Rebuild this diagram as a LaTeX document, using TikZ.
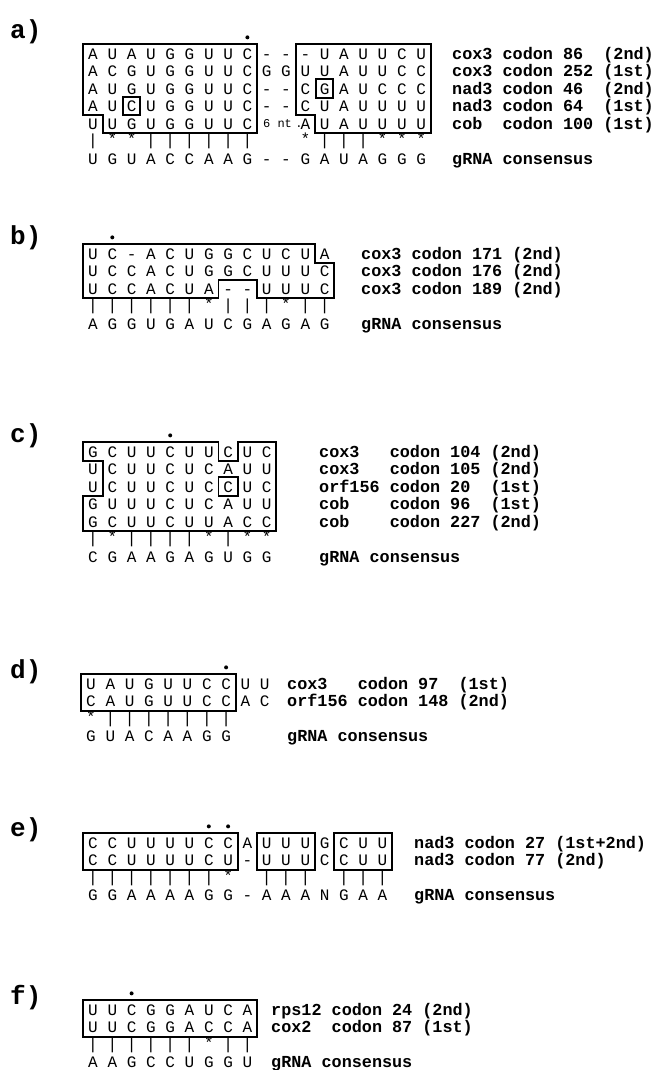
\documentclass[tikz,border=0pt]{standalone}
\usepackage{fontspec}
\setmonofont{Liberation Mono}
\frenchspacing
\newcommand\seqf{\fontsize{16}{16}\selectfont\ttfamily}
\newcommand\smallf{\fontsize{12}{12}\selectfont\ttfamily}
\newcommand\lblf{\fontsize{16.8}{17}\selectfont\ttfamily\bfseries}
\newcommand\panf{\fontsize{26}{26}\selectfont\ttfamily\bfseries}
\tikzset{
  nt/.style={inner sep=0pt, font=\seqf, text height=10.5pt, text depth=0pt, anchor=center},
  ntsmall/.style={inner sep=0pt, font=\smallf, text height=8pt, text depth=0pt, anchor=center},
  mk/.style={inner sep=0pt, font=\seqf, anchor=center},
  lbl/.style={inner sep=0pt, font=\lblf, anchor=west, text height=10.5pt, text depth=0pt},
  pan/.style={inner sep=0pt, font=\panf, anchor=west},
  boxl/.style={draw=black, line width=1.8pt, line join=miter},
  dotm/.style={fill=black, circle, inner sep=0pt, minimum size=4pt},
}
\newcommand\seqrow[3]{\foreach \ch [count=\i from 0] in {#3} {\node[nt] (#1-\i) at (\i,#2) {\ch};}}
\newcommand\barrow[3]{\foreach \i in {#3} {\node[mk] (#1-b\i) at (\i,#2) {|};}}
\newcommand\starrow[3]{\foreach \i in {#3} {\node[mk,yshift=2.5pt] (#1-s\i) at (\i,#2) {*};}}
\begin{document}
\begin{tikzpicture}[x=1pt,y=-1pt]
\useasboundingbox (0,0) rectangle (662,1070);
\fill[white] (0,0) rectangle (662,1070);

% ---------------- panel a
\node[pan] (pa) at (10,32) {a)};
\begin{scope}[shift={(93pt,-54pt)},x=19.3pt,y=-17.5pt]
  \node[dotm] (a-dot) at (8,-0.95) {};
  \seqrow{a0}{0}{A,U,A,U,G,G,U,U,C,-,-,-,U,A,U,U,C,U}
  \seqrow{a1}{1}{A,C,G,U,G,G,U,U,C,G,G,U,U,A,U,U,C,C}
  \seqrow{a2}{2}{A,U,G,U,G,G,U,U,C,-,-,C,G,A,U,C,C,C}
  \seqrow{a3}{3}{A,U,C,U,G,G,U,U,C,-,-,C,U,A,U,U,U,U}
  \seqrow{a4}{4}{U,U,G,U,G,G,U,U,C,{},{},A,U,A,U,U,U,U}
  \node[ntsmall] (a-6nt) at (9.56,4) {6~nt};
  \node[ntsmall] (a-per) at (10.67,4) {.};
  \barrow{am}{5}{0,3,4,5,6,7,8,12,13,14}
  \starrow{am}{5}{1,2,11,15,16,17}
  \seqrow{ac}{6}{U,G,U,A,C,C,A,A,G,-,-,G,A,U,A,G,G,G}
  \draw[boxl] (-0.5,-0.57) -- (8.5,-0.57) -- (8.5,4.52) -- (0.5,4.52) -- (0.5,3.5) -- (-0.5,3.5) -- cycle;
  \draw[boxl] (10.5,-0.57) -- (17.5,-0.57) -- (17.5,4.52) -- (11.5,4.52) -- (11.5,3.5) -- (10.5,3.5) -- cycle;
  \draw[boxl] (1.55,2.45) rectangle (2.45,3.5);
  \draw[boxl] (11.55,1.45) rectangle (12.45,2.5);
\end{scope}
\node[lbl] (la1) at (452,54) {cox3 codon 86~~(2nd)};
\node[lbl] (la2) at (452,71.5) {cox3 codon 252 (1st)};
\node[lbl] (la3) at (452,89) {nad3 codon 46~~(2nd)};
\node[lbl] (la4) at (452,106.5) {nad3 codon 64~~(1st)};
\node[lbl] (la5) at (452,124) {cob~~codon 100 (1st)};
\node[lbl] (la6) at (452,159) {gRNA consensus};

% ---------------- panel b
\node[pan] (pb) at (10,238) {b)};
\begin{scope}[shift={(93pt,-254pt)},x=19.3pt,y=-17.5pt]
  \node[dotm] (b-dot) at (1,-0.95) {};
  \seqrow{b0}{0}{U,C,-,A,C,U,G,G,C,U,C,U,A}
  \seqrow{b1}{1}{U,C,C,A,C,U,G,G,C,U,U,U,C}
  \seqrow{b2}{2}{U,C,C,A,C,U,A,-,-,U,U,U,C}
  \barrow{bm}{3}{0,1,2,3,4,5,7,8,9,11,12}
  \starrow{bm}{3}{6,10}
  \seqrow{bc}{4}{A,G,G,U,G,A,U,C,G,A,G,A,G}
  \draw[boxl] (-0.5,-0.57) -- (11.5,-0.57) -- (11.5,0.5) -- (12.5,0.5) -- (12.5,2.52) -- (8.5,2.52) -- (8.5,1.5) -- (6.5,1.5) -- (6.5,2.52) -- (-0.5,2.52) -- cycle;
\end{scope}
\node[lbl] (lb1) at (361,254) {cox3 codon 171 (2nd)};
\node[lbl] (lb2) at (361,271.5) {cox3 codon 176 (2nd)};
\node[lbl] (lb3) at (361,289) {cox3 codon 189 (2nd)};
\node[lbl] (lb4) at (361,324) {gRNA consensus};

% ---------------- panel c
\node[pan] (pc) at (10,436) {c)};
\begin{scope}[shift={(93pt,-452pt)},x=19.3pt,y=-17.5pt]
  \node[dotm] (c-dot) at (4,-0.95) {};
  \seqrow{c0}{0}{G,C,U,U,C,U,U,C,U,C}
  \seqrow{c1}{1}{U,C,U,U,C,U,C,A,U,U}
  \seqrow{c2}{2}{U,C,U,U,C,U,C,C,U,C}
  \seqrow{c3}{3}{G,U,U,U,C,U,C,A,U,U}
  \seqrow{c4}{4}{G,C,U,U,C,U,U,A,C,C}
  \barrow{cm}{5}{0,2,3,4,5,7}
  \starrow{cm}{5}{1,6,8,9}
  \seqrow{cc}{6}{C,G,A,A,G,A,G,U,G,G}
  \draw[boxl] (-0.5,-0.57) -- (6.5,-0.57) -- (6.5,0.5) -- (7.5,0.5) -- (7.5,-0.57) -- (9.5,-0.57) -- (9.5,4.52) -- (-0.5,4.52) -- (-0.5,2.5) -- (0.5,2.5) -- (0.5,0.5) -- (-0.5,0.5) -- cycle;
  \draw[boxl] (6.5,1.43) rectangle (7.5,2.5);
\end{scope}
\node[lbl] (lc1) at (319,452) {cox3~~~codon 104 (2nd)};
\node[lbl] (lc2) at (319,469.5) {cox3~~~codon 105 (2nd)};
\node[lbl] (lc3) at (319,487) {orf156 codon 20~~(1st)};
\node[lbl] (lc4) at (319,504.5) {cob~~~~codon 96~~(1st)};
\node[lbl] (lc5) at (319,522) {cob~~~~codon 227 (2nd)};
\node[lbl] (lc6) at (319,557) {gRNA consensus};

% ---------------- panel d
\node[pan] (pd) at (10,672) {d)};
\begin{scope}[shift={(91pt,-684pt)},x=19.3pt,y=-17.5pt]
  \node[dotm] (d-dot) at (7,-0.95) {};
  \seqrow{d0}{0}{U,A,U,G,U,U,C,C,U,U}
  \seqrow{d1}{1}{C,A,U,G,U,U,C,C,A,C}
  \barrow{dm}{2}{1,2,3,4,5,6,7}
  \starrow{dm}{2}{0}
  \seqrow{dc}{3}{G,U,A,C,A,A,G,G}
  \draw[boxl] (-0.5,-0.57) rectangle (7.5,1.52);
\end{scope}
\node[lbl] (ld1) at (287,684) {cox3~~~codon 97~~(1st)};
\node[lbl] (ld2) at (287,701.5) {orf156 codon 148 (2nd)};
\node[lbl] (ld3) at (287,736.5) {gRNA consensus};

% ---------------- panel e
\node[pan] (pe) at (10,830) {e)};
\begin{scope}[shift={(93pt,-843pt)},x=19.3pt,y=-17.5pt]
  \node[dotm] (e-dot1) at (6,-0.95) {};
  \node[dotm] (e-dot2) at (7,-0.95) {};
  \seqrow{e0}{0}{C,C,U,U,U,U,C,C,A,U,U,U,G,C,U,U}
  \seqrow{e1}{1}{C,C,U,U,U,U,C,U,-,U,U,U,C,C,U,U}
  \barrow{em}{2}{0,1,2,3,4,5,6,9,10,11,13,14,15}
  \starrow{em}{2}{7}
  \seqrow{ec}{3}{G,G,A,A,A,A,G,G,-,A,A,A,N,G,A,A}
  \draw[boxl] (-0.5,-0.57) rectangle (7.5,1.52);
  \draw[boxl] (8.5,-0.57) rectangle (11.5,1.52);
  \draw[boxl] (12.5,-0.57) rectangle (15.5,1.52);
\end{scope}
\node[lbl] (le1) at (414,843) {nad3 codon 27 (1st+2nd)};
\node[lbl] (le2) at (414,860.5) {nad3 codon 77 (2nd)};
\node[lbl] (le3) at (414,895.5) {gRNA consensus};

% ---------------- panel f
\node[pan] (pf) at (10,998) {f)};
\begin{scope}[shift={(93pt,-1010pt)},x=19.3pt,y=-17.5pt]
  \node[dotm] (f-dot) at (2,-0.95) {};
  \seqrow{f0}{0}{U,U,C,G,G,A,U,C,A}
  \seqrow{f1}{1}{U,U,C,G,G,A,C,C,A}
  \barrow{fm}{2}{0,1,2,3,4,5,7,8}
  \starrow{fm}{2}{6}
  \seqrow{fc}{3}{A,A,G,C,C,U,G,G,U}
  \draw[boxl] (-0.5,-0.57) rectangle (8.5,1.52);
\end{scope}
\node[lbl] (lf1) at (271,1010) {rps12 codon 24 (2nd)};
\node[lbl] (lf2) at (271,1027.5) {cox2~~codon 87 (1st)};
\node[lbl] (lf3) at (271,1062.5) {gRNA consensus};
\end{tikzpicture}
\end{document}
